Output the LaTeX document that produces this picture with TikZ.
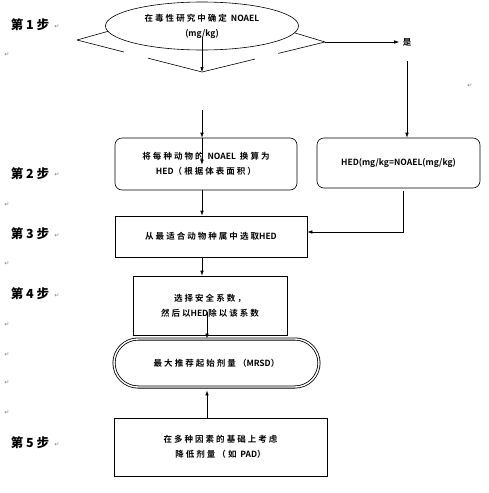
\documentclass[tikz,border=0pt]{standalone}
\usepackage{fontspec}
\setmainfont{Noto Sans CJK SC}
\newfontfamily\boxfont[LetterSpace=24]{Noto Sans CJK SC Bold}
\newfontfamily\latfont{Noto Sans CJK SC Bold}
\newfontfamily\symfont{DejaVu Sans}
\usetikzlibrary{arrows.meta,positioning,shapes.geometric,calc}

\newcommand{\boxtext}{\boxfont\fontsize{8.5}{15}\selectfont}
\newcommand{\lat}[1]{{\latfont #1}}
\newcommand{\steptext}{\bfseries\fontsize{12.5}{15}\selectfont}

\tikzset{
  arr/.style={-{Latex[length=5pt,width=3.5pt]}, line width=0.6pt},
  stepbox/.style={draw, line width=0.6pt, align=center, font=\boxtext,
    minimum width=#1, inner sep=2pt},
  roundbox/.style={stepbox=#1, rounded corners=7pt},
  steplabel/.style={font=\steptext, inner sep=0pt},
  retmark/.style={font=\symfont\fontsize{6}{6}\selectfont, text=gray, inner sep=0pt}
}

\begin{document}
\begin{tikzpicture}[x=1pt,y=-1pt]
  \useasboundingbox (0,0) rectangle (489,493);

  % step 1: the diamond behind the ellipse
  \coordinate (dl) at (77,40);
  \coordinate (dt) at (202,5);
  \coordinate (dr) at (325,42);
  \coordinate (db) at (202,72);
  \draw[line width=0.6pt] (dl) -- (dt) -- (dr);
  \draw[line width=0.6pt] (dl) -- ($(dl)!0.376!(db)$) ($(dl)!0.568!(db)$) -- (db)
    -- ($(db)!0.43!(dr)$) ($(db)!0.62!(dr)$) -- (dr);
  \node[ellipse, draw, line width=0.6pt, fill=white, minimum width=193pt,
    minimum height=48pt, inner sep=0pt, align=center, font=\boxtext]
    (noael) at (202,26) {在毒性研究中确定 \lat{NOAEL}\\\lat{(mg/kg)}};
  \coordinate (e1) at (202,37);
  \draw[arr] (e1) -- (db);
  \node[font=\boxtext] (yes) at (407,42) {是};
  \draw[arr] (dr) -- (yes.west);

  % step 2
  \node[roundbox=182pt, minimum height=52pt] (conv) at (206,164)
    {将每种动物的 \lat{NOAEL} 换算为\\\lat{HED}（根据体表面积）};
  \node[roundbox=163pt, minimum height=50pt] (hed) at (398.5,163)
    {\lat{HED(mg/kg=NOAEL(mg/kg)}};
  \draw[arr] ([yshift=-12pt]yes.south) -- (hed.north -| yes);
  \coordinate (a2) at (202,110);
  \draw[arr] (a2) -- (conv.north -| a2);
  \draw[arr] (conv.north -| a2) -- ++(0,27);

  % step 3
  \node[stepbox=192pt, minimum height=41pt] (pick) at (211,236.5)
    {从最适合动物种属中选取\lat{HED}};
  \draw[arr] (conv.south -| a2) -- (pick.north -| a2);
  \coordinate (r1) at (403,232);
  \draw[arr, shorten <=3pt] (hed.south -| r1) |- (pick.east |- r1);

  % step 4
  \node[stepbox=154pt, minimum height=59pt] (safe) at (210,305.5)
    {选择安全系数，\\然后以\lat{HED}除以该系数};
  \draw[arr] (pick.south -| a2) -- (safe.north -| a2);
  \node[draw, double, double distance=1.4pt, line width=0.8pt, rounded corners=24pt,
    minimum width=205pt, minimum height=48pt, font=\boxtext]
    (mrsd) at (216.5,363) {最大推荐起始剂量（\lat{MRSD}）};
  \coordinate (a4) at (207,312);
  \draw[arr] (a4) -- (mrsd.north -| a4);

  % step 5
  \node[stepbox=213pt, minimum height=58pt] (pad) at (220.5,447)
    {在多种因素的基础上考虑\\降低剂量（如 \lat{PAD}）};
  \draw[arr, shorten >=3pt] (pad.north -| a4) -- (mrsd.south -| a4);

  % step labels on the left
  \node[steplabel] (s1) at (30,25) {第 1 步};
  \node[steplabel] (s2) at (30,174) {第 2 步};
  \node[steplabel] (s3) at (30,234) {第 3 步};
  \node[steplabel] (s4) at (30,294) {第 4 步};
  \node[steplabel] (s5) at (30,443) {第 5 步};

  % paragraph marks
  \foreach \x/\y [count=\i] in {57/27, 7/55, 470/86, 57/175, 7/205, 57/236, 7/264,
      57/296, 7/325, 7/355, 7/383, 7/413, 57/445}
    \node[retmark] (ret\i) at (\x,\y) {↵};
\end{tikzpicture}
\end{document}
